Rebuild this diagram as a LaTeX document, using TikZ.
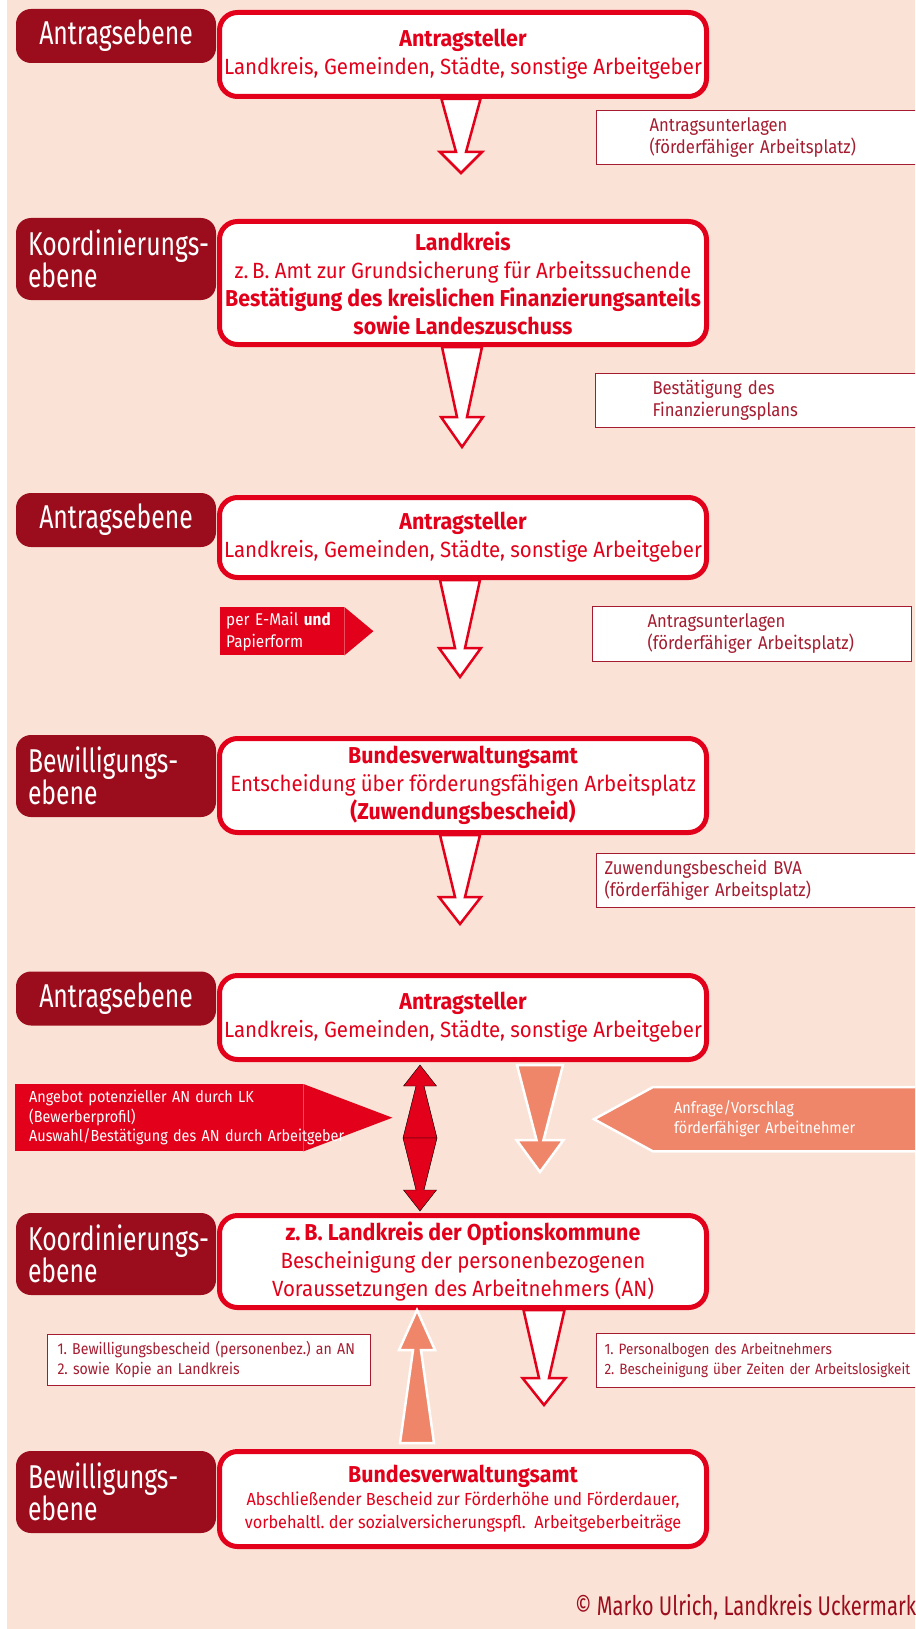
\documentclass[tikz,border=0pt]{standalone}
\usepackage{fontspec}
\setmainfont{Fira Sans}[FakeStretch=0.93]
\newfontfamily\tierfont{Fira Sans}[FakeStretch=0.75]
\newfontfamily\notefont{Fira Sans}[FakeStretch=0.9]
\usetikzlibrary{calc,backgrounds}
\frenchspacing

\definecolor{bgpeach}{RGB}{251,226,214}
\definecolor{ukred}{RGB}{226,0,26}
\definecolor{ukdark}{RGB}{155,13,28}
\definecolor{uksalmon}{RGB}{239,134,106}
\definecolor{ukbox}{RGB}{165,28,48}

% style, from, to, tail half width, neck half width, head half width, head length
\newcommand{\blockarrow}[7]{%
  \path (#3) coordinate (ba-tip) ($(#3)!#7!(#2)$) coordinate (ba-hb);
  \draw[#1] ($(#2)!#4!90:(#3)$) -- ($(ba-hb)!#5!-90:(#2)$) -- ($(ba-hb)!#6!-90:(#2)$)
    -- (ba-tip) -- ($(ba-hb)!#6!90:(#2)$) -- ($(ba-hb)!#5!90:(#2)$) -- ($(#2)!#4!-90:(#3)$) -- cycle;
}

\tikzset{
  tier/.style={fill=ukdark, rounded corners=15, minimum width=200, text width=176, inner xsep=12,
    inner ysep=0, align=center, text=white, font=\tierfont\fontsize{33}{32}\selectfont},
  stage/.style={draw=ukred, line width=5, fill=white, rounded corners=18, minimum width=487,
    text=ukred, align=center, inner sep=0, font=\fontsize{22}{28}\selectfont},
  docbox/.style={draw=ukbox, line width=1, fill=white, text=ukbox, align=left, anchor=north west,
    inner ysep=0, font=\notefont\fontsize{18.5}{22}\selectfont},
  flagbox/.style={fill=ukred, text=white, align=left, anchor=north west, inner ysep=0,
    font=\notefont\fontsize{16}{19.5}\selectfont},
  hollow/.style={draw=ukred, line width=2.5, fill=white},
  redarrow/.style={fill=ukred},
  palearrow/.style={draw=white, line width=2.5, fill=uksalmon},
}
\newcommand{\hl}[1]{{\fontsize{23}{28}\selectfont\bfseries #1}}

\begin{document}
\begin{tikzpicture}[x=1pt,y=1pt]
\clip (0,0) rectangle (915,-1629);
\begin{scope}[on background layer]
\fill[white] (0,0) rectangle (915,-1629);
\fill[bgpeach] (7,0) rectangle (915,-1629);
\end{scope}

\node[tier, minimum height=54] (l1) at (116,-36) {Antragsebene};
\node[stage, minimum height=84] (b1) at (463,-54.5) {\hl{Antragsteller}\\Landkreis, Gemeinden, Städte, sonstige Arbeitgeber};
\node[docbox, inner xsep=53, text width=228, minimum height=54] (d1) at (596,-110) {Antragsunterlagen\\(förderfähiger Arbeitsplatz)};
\coordinate (a1e) at (461,-173);
\coordinate (a1s) at (b1.south -| a1e);
\blockarrow{hollow}{a1s}{a1e}{19.5pt}{5pt}{21pt}{21pt}

\node[tier, minimum height=82, align=left] (l2) at (116,-259) {\mbox{Koordinierungs-}\\ebene};
\node[stage, minimum height=123] (b2) at (463,-283) {\hl{Landkreis}\\z.\,B. Amt zur Grundsicherung für Arbeitssuchende\\\hl{Bestätigung des kreislichen Finanzierungsanteils}\\\hl{sowie Landeszuschuss}};
\node[docbox, inner xsep=57, text width=220, minimum height=54] (d2) at (595,-373) {Bestätigung des\\Finanzierungsplans};
\coordinate (a2e) at (462,-447);
\coordinate (a2s) at (b2.south -| a2e);
\blockarrow{hollow}{a2s}{a2e}{20pt}{5pt}{21pt}{30pt}

\node[tier, minimum height=54] (l3) at (116,-520) {Antragsebene};
\node[stage, minimum height=80] (b3) at (463,-537.5) {\hl{Antragsteller}\\Landkreis, Gemeinden, Städte, sonstige Arbeitgeber};
\node[flagbox, font=\notefont\fontsize{17}{22}\selectfont, minimum height=48, text width=112, inner xsep=6] (f1) at (220,-607) {per E-Mail \textbf{und}\\Papierform};
\begin{scope}[on background layer]
\fill[ukred] (f1.north east) -- ($(f1.east)+(29,0)$) -- (f1.south east) -- cycle;
\end{scope}
\node[docbox, inner xsep=55, text width=209, minimum height=55] (d3) at (592,-606) {Antragsunterlagen\\(förderfähiger Arbeitsplatz)};
\coordinate (a3e) at (460,-677);
\coordinate (a3s) at (b3.south -| a3e);
\blockarrow{hollow}{a3s}{a3e}{20pt}{5pt}{21pt}{29pt}

\node[tier, minimum height=82, align=left] (l4) at (116,-776) {\mbox{Bewilligungs-}\\ebene};
\node[stage, minimum height=94] (b4) at (463,-785.5) {\hl{Bundesverwaltungsamt}\\Entscheidung über förderungsfähigen Arbeitsplatz\\\hl{(Zuwendungsbescheid)}};
\node[docbox, inner xsep=8, text width=318, minimum height=54] (d4) at (596,-853) {Zuwendungsbescheid BVA\\(förderfähiger Arbeitsplatz)};
\coordinate (a4e) at (460,-924);
\coordinate (a4s) at (b4.south -| a4e);
\blockarrow{hollow}{a4s}{a4e}{20pt}{5pt}{21pt}{27pt}

\node[tier, minimum height=54] (l5) at (116,-998.5) {Antragsebene};
\node[stage, minimum height=84] (b5) at (463,-1017.5) {\hl{Antragsteller}\\Landkreis, Gemeinden, Städte, sonstige Arbeitgeber};
\node[flagbox, minimum height=67, text width=260, inner xsep=14] (f2) at (15,-1084) {Angebot potenzieller AN durch LK\\(Bewerberprofil)\\\mbox{Auswahl/Bestätigung des AN durch Arbeitgeber}};
\begin{scope}[on background layer]
\fill[ukred] (f2.north east) -- ($(f2.east)+(89,0)$) -- (f2.south east) -- cycle;
\end{scope}
\node[flagbox, fill=uksalmon, font=\notefont\fontsize{16}{20}\selectfont, minimum height=64, text width=240, inner xsep=21] (f3) at (653,-1087) {Anfrage/Vorschlag\\förderfähiger Arbeitnehmer};
\fill[uksalmon] (f3.north west) -- ($(f3.west)+(-59,0)$) -- (f3.south west) -- cycle;
\draw[white, line width=2.5] (f3.north east) -- (f3.north west) -- ($(f3.west)+(-59,0)$) -- (f3.south west) -- (f3.south east);

\node[tier, minimum height=82, align=left] (l6) at (116,-1254) {\mbox{Koordinierungs-}\\ebene};
\node[stage, minimum height=92] (b6) at (463,-1261.5) {\hl{z.\,B. Landkreis der Optionskommune}\\Bescheinigung der personenbezogenen\\Voraussetzungen des Arbeitnehmers (AN)};

\coordinate (dm) at (420,-1138);
\coordinate (dtop) at ($(b5.south -| dm)+(0,-3)$);
\coordinate (dbot) at ($(b6.north -| dm)+(0,2)$);
\blockarrow{redarrow}{dm}{dtop}{17pt}{4pt}{16.5pt}{21pt}
\blockarrow{redarrow}{dm}{dbot}{17pt}{4pt}{16.5pt}{21pt}

\coordinate (sde) at (540,-1172);
\coordinate (sds) at ($(b5.south -| sde)+(0,-3)$);
\blockarrow{palearrow}{sds}{sde}{23pt}{3.5pt}{23.5pt}{32pt}

\node[docbox, font=\notefont\fontsize{15.7}{20}\selectfont, inner xsep=10, text width=303, minimum height=51] (d5) at (47,-1334) {1. Bewilligungsbescheid (personenbez.) an AN\\2. sowie Kopie an Landkreis};
\node[docbox, font=\notefont\fontsize{15}{20}\selectfont, inner xsep=8, text width=318, minimum height=54] (d6) at (596,-1333) {1. Personalbogen des Arbeitnehmers\\2. Bescheinigung über Zeiten der Arbeitslosigkeit};
\coordinate (a6e) at (544,-1405);
\coordinate (a6s) at (b6.south -| a6e);
\blockarrow{hollow}{a6s}{a6e}{20.5pt}{5pt}{21.5pt}{27pt}

\node[tier, minimum height=82, align=left] (l7) at (116,-1492) {\mbox{Bewilligungs-}\\ebene};
\node[stage, minimum height=95, font=\fontsize{17.5}{23}\selectfont] (b7) at (463,-1499) {{\fontsize{23}{26}\selectfont\bfseries Bundesverwaltungsamt}\\Abschließender Bescheid zur Förderhöhe und Förderdauer,\\vorbehaltl. der sozialversicherungspfl.\ \ Arbeitgeberbeiträge};

\coordinate (sue) at (417,0);
\coordinate (sus) at ($(b7.north -| sue)+(0,6)$);
\coordinate (sut) at (b6.south -| sue);
\blockarrow{palearrow}{sus}{sut}{17pt}{4pt}{18pt}{40pt}

\node[anchor=base west, text=ukdark, font=\tierfont\fontsize{27}{30}\selectfont, inner sep=0] (copy) at (575,-1615) {© Marko Ulrich, Landkreis Uckermark};
\end{tikzpicture}
\end{document}
